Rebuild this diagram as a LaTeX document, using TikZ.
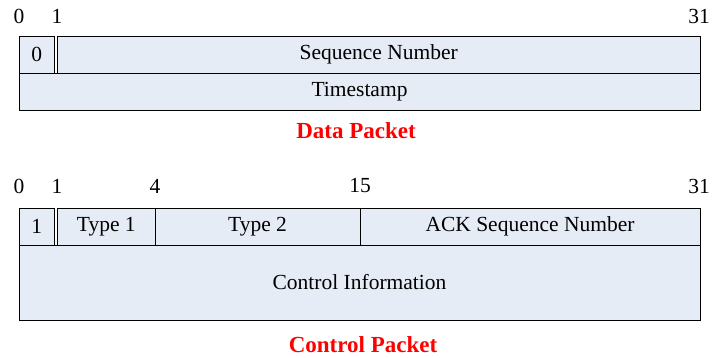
\documentclass[tikz,border=0pt]{standalone}
\usepackage{fontspec}
\setmainfont{Liberation Serif}
\begin{document}
\begin{tikzpicture}[x=1pt,y=-1pt,
  field/.style={draw=black, line width=0.9pt, fill=fieldblue, inner sep=0pt, outer sep=0pt,
    anchor=north west, font=\fontsize{21.5}{25}\selectfont},
  bitno/.style={inner sep=0pt, font=\fontsize{21.5}{25}\selectfont},
  caption/.style={inner sep=0pt, text=red, font=\fontsize{23}{27}\selectfont\bfseries}]
\definecolor{fieldblue}{RGB}{230,236,245}
\useasboundingbox (0,0) rectangle (712,358);

% ---- data packet ----
\node[field, minimum width=35.5pt, minimum height=37pt] (d0) at (19,36) {0};
\node[field, minimum width=642.5pt, minimum height=37pt] (dseq) at (57.5,36) {Sequence Number};
\node[field, minimum width=681pt, minimum height=37pt] (dts) at (19,73) {Timestamp};
\node[bitno] (db0) at (19,16) {0};
\node[bitno] (db1) at (57,16) {1};
\node[bitno] (db31) at (699,16) {31};
\node[caption] (dcap) at (356,131) {Data Packet};

% ---- control packet ----
\node[field, minimum width=35.5pt, minimum height=37pt] (c0) at (19,208) {1};
\node[field, minimum width=97.5pt, minimum height=37pt] (ct1) at (57.5,208) {Type 1};
\node[field, minimum width=205pt, minimum height=37pt] (ct2) at (155,208) {Type 2};
\node[field, minimum width=340pt, minimum height=37pt] (cack) at (360,208) {ACK Sequence Number};
\node[field, minimum width=681pt, minimum height=75pt] (cinfo) at (19,245) {Control Information};
\node[bitno] (cb0) at (19,186) {0};
\node[bitno] (cb1) at (57,186) {1};
\node[bitno] (cb4) at (155,186) {4};
\node[bitno] (cb15) at (360,186) {15};
\node[bitno] (cb31) at (699,186) {31};
\node[caption] (ccap) at (363,345) {Control Packet};
\end{tikzpicture}
\end{document}
